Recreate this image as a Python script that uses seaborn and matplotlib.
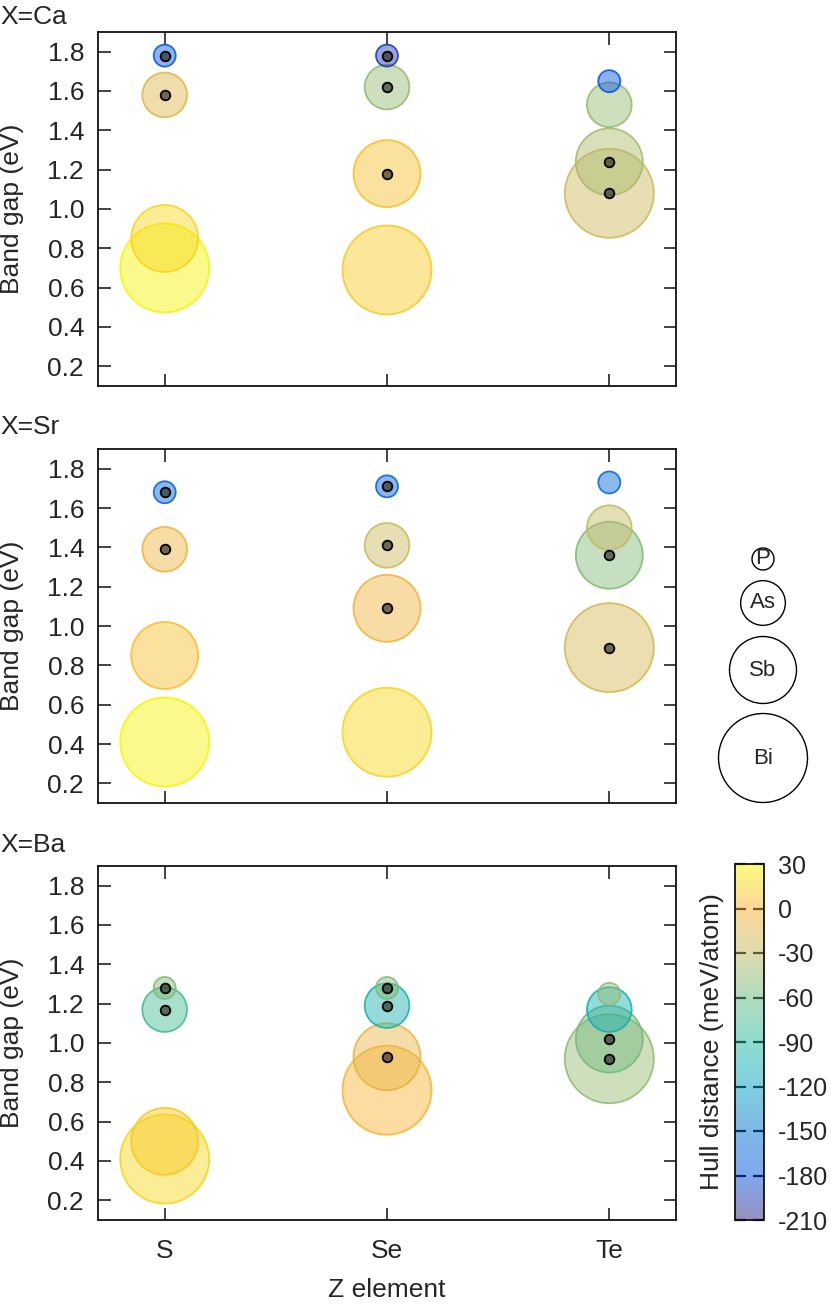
import numpy as np
import pandas as pd
import matplotlib.pyplot as plt
import seaborn as sns
from matplotlib.colors import LinearSegmentedColormap, Normalize
from matplotlib.cm import ScalarMappable

#########################################################################
panels = ['Ca', 'Sr', 'Ba']
z_elems = ['S', 'Se', 'Te']
a_elems = ['Bi', 'Sb', 'As', 'P']   # drawing order, big circles first

# band gap (eV), ordered S(Bi,Sb,As,P), Se(...), Te(...)
gap_ca = [0.70, 0.85, 1.58, 1.78,  0.69, 1.18, 1.62, 1.78,  1.08, 1.24, 1.53, 1.65]
gap_sr = [0.41, 0.85, 1.39, 1.68,  0.46, 1.09, 1.41, 1.71,  0.89, 1.36, 1.50, 1.73]
gap_ba = [0.41, 0.50, 1.17, 1.28,  0.76, 0.93, 1.19, 1.28,  0.92, 1.02, 1.17, 1.25]

# hull distance (meV/atom)
hull_ca = [30, 15, -15, -175,  10, 5, -45, -195,  -25, -38, -45, -180]
hull_sr = [30, 5, -5, -165,  15, -5, -25, -165,  -20, -50, -30, -160]
hull_ba = [15, 10, -75, -50,  0, -10, -100, -50,  -45, -55, -105, -45]

# black dot marker
dot_ca = [0, 0, 1, 1,  0, 1, 1, 1,  1, 1, 0, 0]
dot_sr = [0, 0, 1, 1,  0, 1, 1, 1,  1, 1, 0, 0]
dot_ba = [0, 0, 1, 1,  0, 1, 1, 1,  1, 1, 0, 0]

gaps = {'Ca': gap_ca, 'Sr': gap_sr, 'Ba': gap_ba}
hulls = {'Ca': hull_ca, 'Sr': hull_sr, 'Ba': hull_ba}
dots = {'Ca': dot_ca, 'Sr': dot_sr, 'Ba': dot_ba}

cbar_ticks = list(range(-210, 31, 30))
cmap_colors = ['#312181', '#0151e1', '#0171d1', '#01a1c1', '#21b9a1',
               '#61b981', '#c1b961', '#f9b131', '#f5f500']
sizes = {'P': 251, 'As': 1036, 'Sb': 2327, 'Bi': 4104}
#########################################################################

rows = []
for X in panels:
    k = 0
    for zi, Z in enumerate(z_elems):
        for A in a_elems:
            rows.append(dict(X=X, Z=Z, xpos=zi, A=A, gap=gaps[X][k],
                             hull=hulls[X][k], dot=dots[X][k]))
            k += 1
df = pd.DataFrame(rows)

sns.set_style('ticks')
plt.rcParams['font.family'] = ['Liberation Sans', 'DejaVu Sans']
plt.rcParams['axes.unicode_minus'] = False
FS = 19

cmap = LinearSegmentedColormap.from_list('hull', cmap_colors)
norm = Normalize(-210, 30)

fig = plt.figure(figsize=(8.31, 13.05), dpi=100)
W, H = 831, 1305
ax_px = [(32, 386), (449, 803), (866, 1220)]
title_y = [17, 427, 845]

for i, X in enumerate(panels):
    top, bot = ax_px[i]
    ax = fig.add_axes([98 / W, 1 - bot / H, 578 / W, (bot - top) / H])
    d = df[df['X'] == X]
    sns.scatterplot(data=d, x='xpos', y='gap', hue='hull', palette=cmap,
                    hue_norm=(-210, 30), size='A', sizes=sizes,
                    legend=False, ax=ax)
    coll = ax.collections[0]
    fc = coll.get_facecolors()
    face = fc.copy(); face[:, 3] = 0.45
    edge = fc.copy(); edge[:, 3] = 0.85
    coll.set_facecolors(face)
    coll.set_edgecolors(edge)
    coll.set_linewidths(1.3)

    dd = d[d['dot'] == 1]
    sns.scatterplot(data=dd, x='xpos', y='gap', s=48, color='black',
                    legend=False, ax=ax)
    c2 = ax.collections[1]
    c2.set_facecolors([(0.1, 0.1, 0.05, 0.6)])
    c2.set_edgecolors(['black'])
    c2.set_linewidths(1.3)

    ax.set_xlim(-0.3, 2.3)
    ax.set_ylim(0.1, 1.9)
    ax.set_yticks(np.arange(0.2, 1.81, 0.2))
    ax.set_yticklabels([f'{v:.1f}' for v in np.arange(0.2, 1.81, 0.2)])
    ax.set_xticks(range(len(z_elems)))
    ax.tick_params(direction='in', length=9, width=1.2, color='#222222',
                   top=True, right=True, labelsize=FS, pad=10)
    if i == 2:
        ax.set_xticklabels(z_elems)
        ax.tick_params(axis='x', pad=14)
        ax.set_xlabel('Z element', fontsize=FS)
        ax.xaxis.set_label_coords(0.5, -0.165)
    else:
        ax.set_xticklabels([])
        ax.set_xlabel('')
    ax.set_ylabel('Band gap (eV)', fontsize=FS)
    ax.yaxis.set_label_coords(-0.128, 0.5)
    for sp in ax.spines.values():
        sp.set_linewidth(1.3)
        sp.set_color('#111111')
    fig.text(0.0, 1 - title_y[i] / H, f'X={X}', fontsize=FS,
             ha='left', va='center')

# size legend
leg_y = [39, 83, 150, 238]
leg_names = ['P', 'As', 'Sb', 'Bi']
lax = fig.add_axes([700 / W, 1 - 820 / H, 131 / W, 300 / H])
lax.set_xlim(0, 131)
lax.set_ylim(300, 0)
lax.axis('off')
leg_df = pd.DataFrame({'x': [63] * 4, 'y': leg_y, 'A': leg_names})
sns.scatterplot(data=leg_df, x='x', y='y', size='A', sizes=sizes,
                legend=False, ax=lax)
lc = lax.collections[0]
lc.set_facecolors(['white'])
lc.set_edgecolors(['black'])
lc.set_linewidths(1.0)
for yv, nm in zip(leg_y, leg_names):
    lax.text(63, yv, nm, ha='center', va='center', fontsize=16)

# colorbar
cax = fig.add_axes([735 / W, 1 - 1220 / H, 29 / W, 356 / H])
sm = ScalarMappable(norm=norm, cmap=cmap)
cb = fig.colorbar(sm, cax=cax, alpha=0.5, ticks=cbar_ticks)
cb.outline.set_linewidth(1.3)
cb.outline.set_edgecolor('#111111')
cax.tick_params(axis='y', direction='in', length=8, width=1.6,
                color='black', left=True, right=True,
                labelleft=False, labelright=True, labelsize=18, pad=10)
cb.set_label('Hull distance (meV/atom)', fontsize=FS, labelpad=8)
cax.yaxis.set_label_position('left')

fig.savefig('out.png', dpi=100)
plt.close('all')
